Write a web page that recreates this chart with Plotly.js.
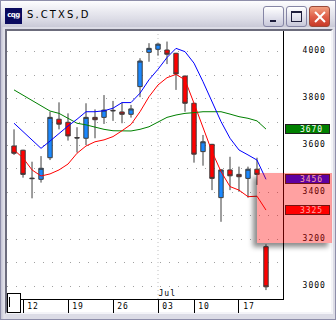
<!DOCTYPE html>
<html><head><meta charset="utf-8">
<script src="https://cdn.plot.ly/plotly-3.0.1.min.js"></script>
<style>
html,body{margin:0;padding:0;width:336px;height:320px;overflow:hidden;background:#d6d6e2;}
#win{position:absolute;left:0;top:0;width:334px;height:318px;border:1px solid #8e8eaa;background:linear-gradient(90deg,#c4c4d4,#e2e2ea 3px,#dcdce6 6px);}
#tb{position:absolute;left:0;top:0;width:334px;height:26px;background:linear-gradient(#fdfdff 0%,#ececf2 35%,#dcdce6 70%,#c9c9d7 100%);}
#ico{position:absolute;left:4px;top:7px;width:17px;height:16px;background:#0a0a5e;color:#fff;font:bold 7px 'DejaVu Sans';line-height:15px;text-align:center;letter-spacing:-0.5px;}
#ttl{position:absolute;left:26px;top:6px;font:10px 'DejaVu Sans';letter-spacing:2.1px;color:#000;line-height:16px;}
.btn{position:absolute;top:5px;width:19px;height:19px;border:1px solid #8585a5;border-radius:3px;background:linear-gradient(#ffffff,#e4e4ee 50%,#c8c8da);}
#bmin{left:262px;}
#bmin i{position:absolute;left:6px;top:13px;width:6px;height:2px;background:#1e1e3c;}
#bmax{left:285px;}
#bmax i{position:absolute;left:4px;top:4px;width:9px;height:8px;border:1px solid #1e1e3c;border-top-width:2px;}
#bcls{left:308px;border-color:#9a4a3a;background:linear-gradient(#f2a080,#e0604a 50%,#c83a28);}
#bcls i{position:absolute;left:9px;top:3px;width:2px;height:14px;background:#fff;transform:rotate(45deg);}
#bcls b{position:absolute;left:9px;top:3px;width:2px;height:14px;background:#fff;transform:rotate(-45deg);}
#panel{position:absolute;left:5px;top:29px;width:324px;height:281px;border-style:solid;border-width:2px;border-color:#6c6c7c #f4f4f8 #f4f4f8 #6c6c7c;background:#fff;}
#chart{position:absolute;left:0;top:0;width:336px;height:320px;z-index:2;}
#hbox{position:absolute;left:7px;top:293px;width:12px;height:18px;border:1px solid #000;background:#fff;z-index:3;}
#hbox i{position:absolute;left:1px;top:3px;width:1px;height:10px;background:#000;}
#pink{position:absolute;left:257px;top:173px;width:75px;height:70px;background:rgba(255,0,0,0.37);box-shadow:-4px 4px 5px rgba(0,0,0,0.45);z-index:4;}
.main-svg text{letter-spacing:1px;}
</style>
</head><body>
<div id="win">
  <div id="tb">
    <div id="ico">cqg</div>
    <div id="ttl">S.CTXS,D</div>
    <div class="btn" id="bmin"><i></i></div>
    <div class="btn" id="bmax"><i></i></div>
    <div class="btn" id="bcls"><i></i><b></b></div>
  </div>
</div>
<div id="panel"></div>
<div id="chart"></div>
<div id="hbox"><i></i></div>
<div id="pink"></div>
<script>
// ---- data ----
const dates = ['2000-06-09','2000-06-12','2000-06-13','2000-06-14','2000-06-15','2000-06-16',
  '2000-06-19','2000-06-20','2000-06-21','2000-06-22','2000-06-23',
  '2000-06-26','2000-06-27','2000-06-28','2000-06-29','2000-06-30',
  '2000-07-03','2000-07-05','2000-07-06','2000-07-07',
  '2000-07-10','2000-07-11','2000-07-12','2000-07-13','2000-07-14',
  '2000-07-17','2000-07-18','2000-07-19','2000-07-20'];
const openP  = [3598,3580,3461,3456,3548,3712,3699,3634,3631,3720,3720,3750,3743,3733,3851,3997,4010,4007,3993,3896,3780,3574,3605,3378,3496,3477,3460,3499,3169];
const highP  = [3669,3582,3531,3555,3744,3784,3737,3678,3780,3754,3815,3790,3783,3773,3972,4036,4036,4043,3995,3898,3782,3645,3607,3500,3552,3510,3510,3548,3179];
const lowP   = [3560,3463,3375,3442,3538,3669,3621,3570,3602,3631,3692,3705,3695,3719,3806,3957,3983,3947,3837,3744,3527,3514,3410,3275,3410,3403,3378,3432,2984];
const closeP = [3567,3477,3459,3503,3720,3691,3641,3632,3720,3710,3751,3748,3733,3756,3960,4014,4032,3989,3905,3780,3563,3616,3460,3496,3471,3467,3499,3477,2998];
const maFast = [3695,3659,3624,3588,3619,3652,3683,3712,3744,3744,3748,3759,3783,3783,3823,3880,3925,3975,4014,4000,3951,3872,3787,3702,3631,3581,3560,3538,3456];
const maMid  = [3581,3547,3496,3470,3479,3496,3521,3567,3598,3616,3624,3638,3663,3690,3744,3808,3858,3889,3903,3880,3780,3673,3574,3489,3425,3410,3382,3384,3325];
const maSlow = [3837,3815,3794,3769,3747,3737,3716,3695,3688,3678,3669,3663,3662,3662,3669,3680,3700,3720,3730,3737,3740,3744,3744,3744,3734,3723,3716,3705,3670];
const weekTicks  = ['2000-06-12','2000-06-19','2000-06-26','2000-07-03','2000-07-10','2000-07-17'];
const weekLabels = ['12','19','26','03','10','17'];
const monthStart = '2000-07-03';
const monthLabel = 'Jul';
const priceTicks  = [3000,3100,3200,3300,3400,3500,3600,3700,3800,3900,4000];
const priceLabels = ['3000','','3200','','3400','','3600','','3800','','4000'];
const chartTitle = 'S.CTXS,D';

// ---- chart ----
const FONT = 'DejaVu Sans Mono';
const COL_FAST = '#0000ff', COL_MID = '#ff0000', COL_SLOW = '#008000';
const line = (y, c) => ({type:'scatter', mode:'lines', x:dates, y:y, line:{color:c, width:1}, hoverinfo:'skip'});
const traces = [
  line(maSlow, COL_SLOW), line(maMid, COL_MID), line(maFast, COL_FAST),
  {type:'candlestick', x:dates, open:openP, high:highP, low:lowP, close:closeP,
   increasing:{fillcolor:'#1a88ff', line:{color:'#3c3c3c', width:1}},
   decreasing:{fillcolor:'#ff0000', line:{color:'#3c3c3c', width:1}},
   whiskerwidth:0, hoverinfo:'skip'}
];
const lastBox = (arr, c) => ({
  xref:'paper', x:1, xanchor:'left', xshift:2, yref:'y', y:arr[arr.length-1], yanchor:'middle',
  text:String(arr[arr.length-1]) + '\u00a0', showarrow:false, bgcolor:c, bordercolor:'#202020',
  borderwidth:1, borderpad:0, width:43, height:8, align:'right',
  font:{family:FONT, size:8, color:'#ffffff'}
});
const mIdx = dates.indexOf(monthStart);
const layout = {
  width:336, height:320,
  margin:{l:7, r:53, t:31, b:21, pad:0},
  paper_bgcolor:'rgba(0,0,0,0)', plot_bgcolor:'rgba(0,0,0,0)',
  showlegend:false,
  font:{family:FONT, size:8, color:'#000'},
  xaxis:{type:'category', range:[-0.78, 29.89], showline:true, linecolor:'#000', linewidth:1,
    ticks:'outside', ticklen:13, tickwidth:1, tickcolor:'#000',
    tickmode:'array', tickvals:weekTicks, ticktext:weekLabels,
    ticklabelshift:10, ticklabelstandoff:-14,
    tickfont:{family:FONT, size:8, color:'#000'},
    showgrid:false, zeroline:false, rangeslider:{visible:false}, fixedrange:true},
  yaxis:{side:'right', range:[2946, 4088], tickmode:'array', tickvals:priceTicks, ticktext:priceLabels,
    showline:true, linecolor:'#000', linewidth:1, ticks:'',
    showgrid:true, gridcolor:'#a0a0a0', griddash:'1px,8px', gridwidth:1,
    zeroline:false, ticklabelstandoff:17, ticklabelshift:-1,
    tickfont:{family:FONT, size:8, color:'#000'}, fixedrange:true},
  shapes:[{type:'line', xref:'x', yref:'paper', x0:mIdx, x1:mIdx, y0:0, y1:1, layer:'below',
    line:{color:'#c0c0c0', width:1, dash:'1px,3px'}}],
  annotations:[
    {xref:'x', x:mIdx, xanchor:'left', xshift:1, yref:'paper', y:0, yanchor:'bottom',
     text:monthLabel, showarrow:false, borderpad:0, font:{family:FONT, size:8, color:'#000'}},
    lastBox(maSlow, COL_SLOW), lastBox(maFast, COL_FAST), lastBox(maMid, COL_MID)
  ]
};
Plotly.newPlot('chart', traces, layout, {staticPlot:true, displayModeBar:false});
</script>
</body></html>
